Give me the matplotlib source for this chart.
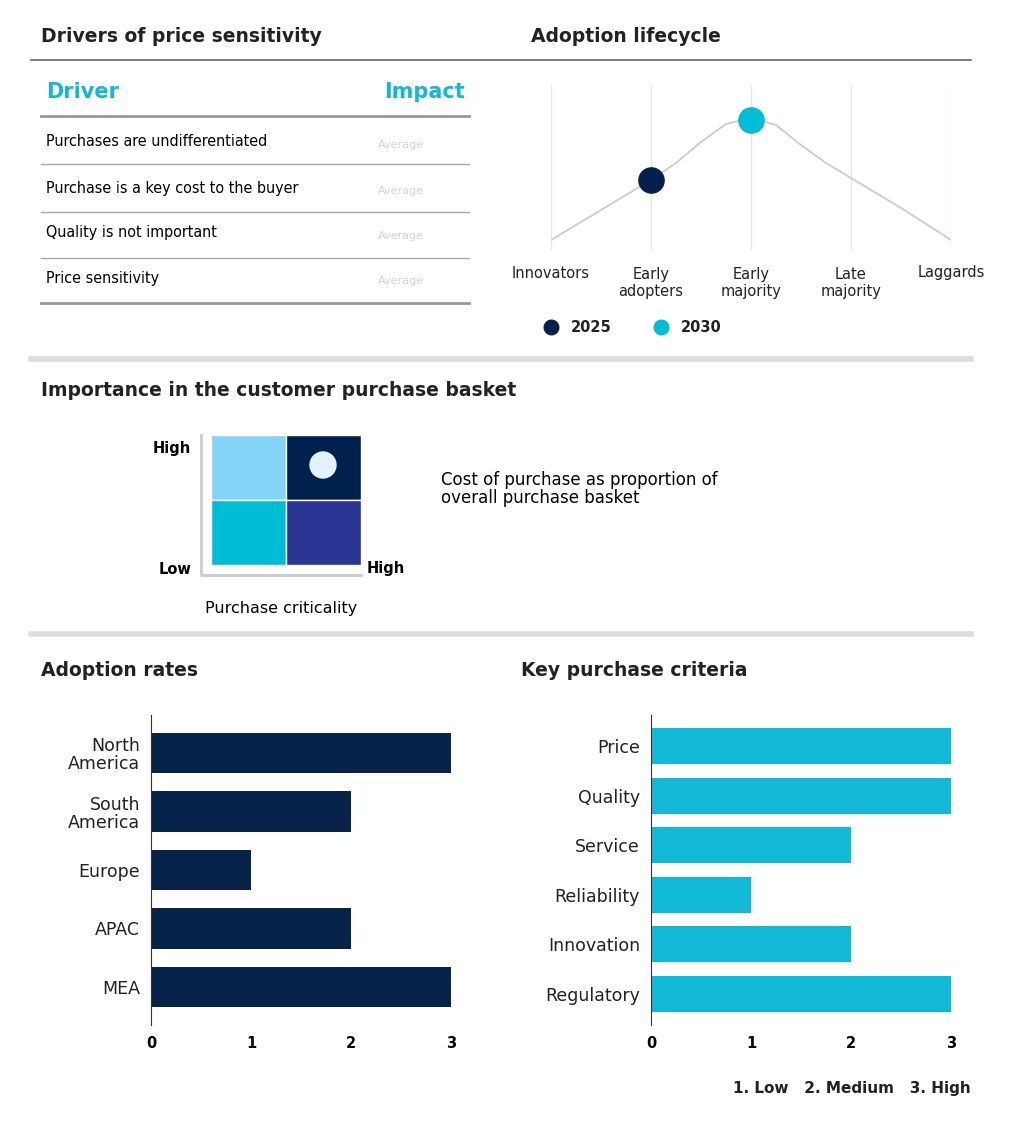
import matplotlib
matplotlib.use("Agg")
import matplotlib.pyplot as plt
from matplotlib.patches import Rectangle, Circle
plt.rcParams["font.family"] = ["DejaVu Sans"]

W, H = 1026, 1124
drivers = ["Purchases are undifferentiated", "Purchase is a key cost to the buyer",
           "Quality is not important", "Price sensitivity"]
impact = ["Average", "Average", "Average", "Average"]
stages = ["Innovators", "Early\nadopters", "Early\nmajority", "Late\nmajority", "Laggards"]
curve_x = [0, 0.25, 0.5, 0.75, 1, 1.25, 1.5, 1.75, 2, 2.25, 2.5, 2.75, 3, 3.25, 3.5, 3.75, 4]
curve_y = [0, 15, 30, 45, 60, 77, 98, 116, 122, 115, 95, 77, 62, 47, 32, 16, 0]
dot_years = ["2025", "2030"]
dot_x = [1, 2]
dot_y = [60, 120]
regions = ["North\nAmerica", "South\nAmerica", "Europe", "APAC", "MEA"]
region_vals = [3, 2, 1, 2, 3]
criteria = ["Price", "Quality", "Service", "Reliability", "Innovation", "Regulatory"]
criteria_vals = [3, 3, 2, 1, 2, 3]

DARK = "#222222"; CYAN = "#12b8d6"
fig = plt.figure(figsize=(W/100, H/100), dpi=100)
bg = fig.add_axes([0, 0, 1, 1]); bg.set_xlim(0, W); bg.set_ylim(H, 0); bg.axis("off")

def ax_px(x0, y0, x1, y1):
    return fig.add_axes([x0/W, 1-y1/H, (x1-x0)/W, (y1-y0)/H])

for x, y, t in [(41, 37, "Drivers of price sensitivity"), (531, 37, "Adoption lifecycle"),
                (41, 391, "Importance in the customer purchase basket"),
                (41, 671, "Adoption rates"), (521, 671, "Key purchase criteria")]:
    bg.text(x, y, t, fontsize=13.5, fontweight="bold", color=DARK, va="center")
bg.plot([31, 971], [60, 60], color="#666666", lw=1.2)
for y in (359, 634):
    bg.plot([31, 971], [y, y], color="#dddddd", lw=4)

bg.text(46, 92, "Driver", fontsize=15, fontweight="bold", color=CYAN, va="center")
bg.text(465, 92, "Impact", fontsize=15, fontweight="bold", color=CYAN, va="center", ha="right")
bg.plot([41, 469], [116, 116], color="#999999", lw=2)
rows_y = [142, 188, 233, 278]
for i, (d, im) in enumerate(zip(drivers, impact)):
    bg.text(46, rows_y[i], d, fontsize=11.5, color="black", va="center", fontstretch="condensed")
    bg.text(401, rows_y[i]+3, im, fontsize=8, color="#c8c8c8", ha="center", va="center", alpha=0.8)
for y in [164, 212, 258]:
    bg.plot([41, 469], [y, y], color="#aaaaaa", lw=1)
bg.plot([41, 469], [303, 303], color="#999999", lw=2)

a = ax_px(551, 85, 951, 250)
a.set_xlim(0, 4); a.set_ylim(-10, 155)
for k in range(5):
    a.axvline(k, color="#e6e6e6", lw=1)
a.plot(curve_x, curve_y, color="#cccccc", lw=1.3)
a.scatter(dot_x[0], dot_y[0], s=330, color="#04214d", zorder=3)
a.scatter(dot_x[1], dot_y[1], s=330, color="#00bcd4", zorder=3)
a.axis("off")
for k, s in enumerate(stages):
    bg.text(551+100*k, 273 if "\n" not in s else 283, s, fontsize=10.5, ha="center", va="center", color=DARK, linespacing=1.1)
bg.scatter([551], [327], s=110, color="#04214d")
bg.text(571, 327, dot_years[0], fontsize=10.5, fontweight="bold", va="center", color=DARK)
bg.scatter([661], [327], s=110, color="#00bcd4")
bg.text(681, 327, dot_years[1], fontsize=10.5, fontweight="bold", va="center", color=DARK)

cols = [["#84d4f8", "#00214e"], ["#00bcd4", "#2b3594"]]
for r in range(2):
    for c in range(2):
        bg.add_patch(Rectangle((211+75*c, 435+65*r), 75, 65, facecolor=cols[r][c], edgecolor="white", lw=1))
bg.add_patch(Circle((323, 465), 13, color="#e3f1fb"))
bg.plot([201, 201, 361], [435, 575, 575], color="#cccccc", lw=2)
bg.text(191, 449, "High", fontsize=10.5, fontweight="bold", ha="right", va="center")
bg.text(191, 569, "Low", fontsize=10.5, fontweight="bold", ha="right", va="center")
bg.text(367, 569, "High", fontsize=10.5, fontweight="bold", ha="left", va="center")
bg.text(281, 608, "Purchase criticality", fontsize=11.5, ha="center", va="center")
bg.text(441, 489, "Cost of purchase as proportion of\noverall purchase basket", fontsize=12, va="center", linespacing=1.0)

def bars(box, labels, vals, color, h, pad):
    ax = ax_px(*box)
    ax.barh(range(len(vals)), vals, height=h, color=color)
    ax.set_xlim(0, 3); ax.set_ylim(len(vals)-1+pad, -pad)
    ax.set_yticks(range(len(vals))); ax.set_yticklabels(labels, fontsize=12.5, color=DARK, linespacing=1.0)
    ax.set_xticks([0, 1, 2, 3]); ax.set_xticklabels(["0", "1", "2", "3"], fontsize=10.5, fontweight="bold")
    for s in ("top", "right", "bottom"):
        ax.spines[s].set_visible(False)
    ax.spines["left"].set_color("#333333")
    ax.tick_params(length=0, pad=8)
    ax.set_facecolor("none")

bars((151, 715, 451, 1025), regions, region_vals, "#08234a", 0.69, 0.65)
bars((651, 715, 951, 1025), criteria, criteria_vals, "#12b9d6", 0.72, 0.63)
bg.text(971, 1088, "1. Low   2. Medium   3. High", fontsize=11, fontweight="bold", ha="right", va="center", color=DARK)

fig.savefig("out.png", dpi=100)
